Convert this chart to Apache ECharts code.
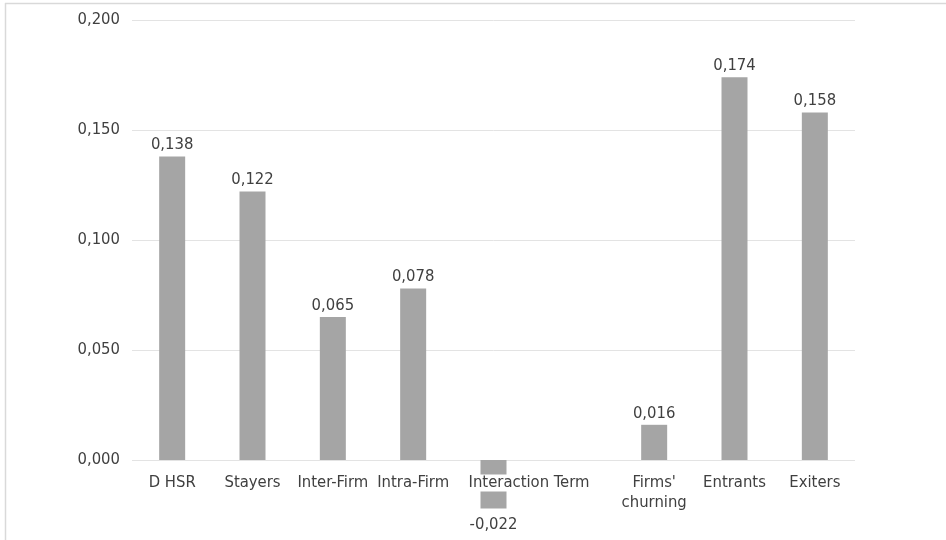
<!DOCTYPE html>
<html>
<head>
<meta charset="utf-8">
<script src="https://cdn.jsdelivr.net/npm/echarts@6/dist/echarts.min.js"></script>
<style>
  html, body { margin: 0; padding: 0; background: #fff; }
  #chart { width: 946px; height: 540px; }
</style>
</head>
<body>
<div id="chart"></div>
<script>
// Decomposition components (one blank slot separates the two groups)
const categories = ['D HSR', 'Stayers', 'Inter-Firm', 'Intra-Firm', 'Interaction Term', '', "Firms'\nchurning", 'Entrants', 'Exiters'];
const values = [0.138, 0.122, 0.065, 0.078, -0.022, null, 0.016, 0.174, 0.158];
const yTicks = { min: -0.05, max: 0.2, step: 0.05 };

// Prefer a condensed face when one is installed; otherwise a smaller regular face
function hasFont(name) {
  const c = document.createElement('canvas').getContext('2d');
  const probe = 'Interaction Term 0,123';
  c.font = '40px monospace';
  const base = c.measureText(probe).width;
  c.font = '40px "' + name + '", monospace';
  return Math.abs(c.measureText(probe).width - base) > 0.5;
}
let FONT = '"Noto Sans", sans-serif', SIZE = 16;
if (hasFont('Liberation Sans Narrow')) { FONT = '"Liberation Sans Narrow", sans-serif'; SIZE = 19; }
else if (hasFont('DejaVu Sans Condensed')) { FONT = '"DejaVu Sans Condensed", sans-serif'; SIZE = 16.5; }

const TEXT = '#404040';
const fmt = v => v.toFixed(3).replace('.', ',');

// Plot geometry: the category axis sits on the zero line
const GRID_TOP = 20, GRID_H = 550;
const zeroOffset = -GRID_H * (0 - yTicks.min) / (yTicks.max - yTicks.min);

// The long label is nudged right of its bar and knocks a white gap into it
const SHIFTED = 'Interaction Term';

const chart = echarts.init(document.getElementById('chart'));
chart.setOption({
  animation: false,
  textStyle: { fontFamily: FONT },
  grid: { left: 132, right: 91, top: GRID_TOP, height: GRID_H, outerBoundsMode: 'none', containLabel: false },
  graphic: [
    { type: 'line', shape: { x1: 5.5, y1: 3, x2: 5.5, y2: 540 }, style: { stroke: '#d9d9d9', lineWidth: 1.5 }, silent: true },
    { type: 'line', shape: { x1: 5, y1: 3.5, x2: 946, y2: 3.5 }, style: { stroke: '#d9d9d9', lineWidth: 1.5 }, silent: true }
  ],
  xAxis: {
    type: 'category',
    data: categories,
    position: 'bottom',
    offset: zeroOffset,
    z: 10,
    axisLine: { show: false, onZero: false },
    axisTick: { show: false },
    axisLabel: {
      interval: 0,
      margin: 13,
      fontFamily: FONT,
      fontSize: SIZE,
      lineHeight: 20,
      color: TEXT,
      formatter: v => v === SHIFTED ? '{sp| }{hl|' + v + '}' : v,
      rich: {
        sp: { width: 71, fontSize: SIZE, lineHeight: 20 },
        hl: {
          fontFamily: FONT,
          fontSize: SIZE,
          lineHeight: 20,
          color: TEXT,
          backgroundColor: '#fff',
          padding: [0, 1]
        }
      }
    }
  },
  yAxis: {
    type: 'value',
    min: yTicks.min,
    max: yTicks.max,
    interval: yTicks.step,
    axisLine: { show: false },
    axisTick: { show: false },
    splitLine: { lineStyle: { color: '#e3e3e3', width: 1 } },
    axisLabel: {
      margin: 12,
      fontFamily: FONT,
      fontSize: SIZE,
      color: TEXT,
      formatter: v => fmt(v)
    }
  },
  series: [{
    type: 'bar',
    z: 2,
    barWidth: 26,
    itemStyle: { color: '#a5a5a5' },
    data: values.map(v => v === null ? '-' : {
      value: v,
      label: { position: v < 0 ? 'bottom' : 'top', distance: v < 0 ? 8 : 3 }
    }),
    label: {
      show: true,
      fontFamily: FONT,
      fontSize: SIZE,
      color: TEXT,
      formatter: p => fmt(p.value)
    }
  }]
});
</script>
</body>
</html>
